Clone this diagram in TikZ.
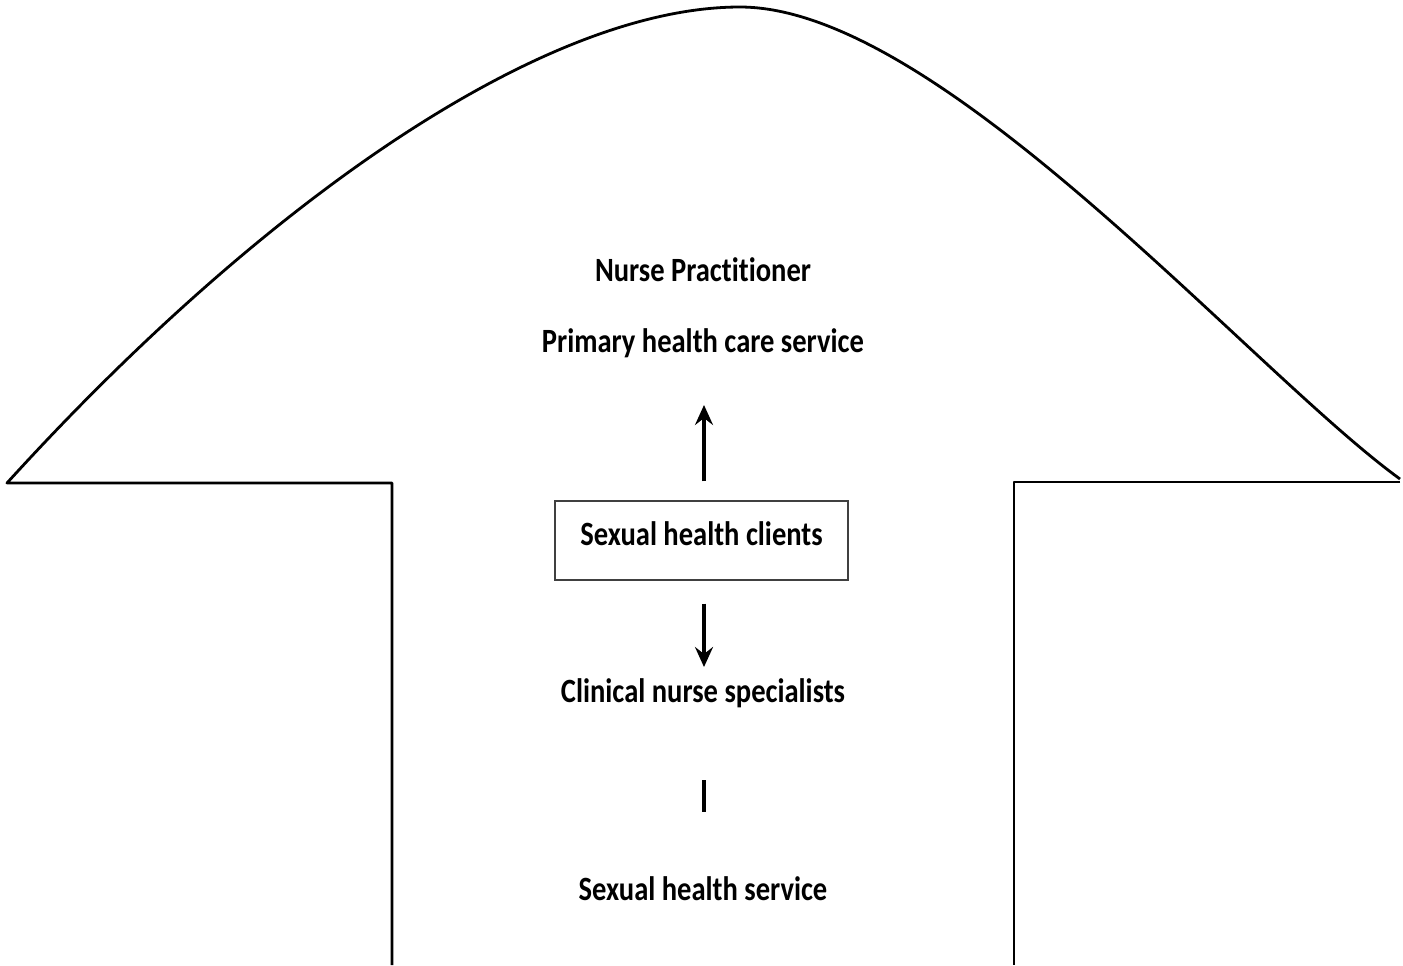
\documentclass[tikz,border=0pt]{standalone}
\usepackage{fontspec}
\setmainfont{Carlito}[Ligatures=NoCommon]
\usetikzlibrary{arrows.meta}
\newcommand{\narrow}[1]{\scalebox{0.84}[1]{#1}}
\tikzset{
  label/.style={font=\fontsize{17}{20}\selectfont\bfseries, inner sep=0.75pt},
  clientbox/.style={label, draw=black!75, line width=0.6pt, minimum width=146.5pt, minimum height=39.5pt, text depth=7pt},
  outline/.style={line width=1.4pt, line join=round},
  flow/.style={line width=1.6pt, -{Stealth[length=10pt, width=9pt, inset=3.5pt]}}
}
\begin{document}
\begin{tikzpicture}[x=0.5pt, y=-0.5pt]
\useasboundingbox (0, 0) rectangle (1403, 965);
%Arrow outline
\draw[outline] (392, 965) -- (392, 483) -- (7, 483)
  .. controls (257, 208) and (540, 7) .. (740, 7)
  .. controls (940, 7) and (1250, 370) .. (1400, 479);
\draw[outline] (1400, 482) -- (1014, 482) -- (1014, 965);
%Text
\node[label] (nurse) at (703, 270) {\narrow{Nurse Practitioner}};
\node[label] (primary) at (703, 343) {\narrow{Primary health care service}};
\node[clientbox] (clients) at (701.5, 540.5) {\narrow{Sexual health clients}};
\node[label] (clinical) at (703, 693) {\narrow{Clinical nurse specialists}};
\node[label] (service) at (703, 889) {\narrow{Sexual health service}};
%Links
\coordinate (upend) at (704, 405);
\coordinate (downend) at (704, 667);
\coordinate (ticktop) at (704, 780);
\coordinate (tickbot) at (704, 812);
\draw[flow, shorten <=9.5pt] (clients.north -| upend) -- (upend);
\draw[flow, shorten <=11.5pt] (clients.south -| downend) -- (downend);
\draw[line width=2pt] (ticktop) -- (tickbot);
\end{tikzpicture}
\end{document}
